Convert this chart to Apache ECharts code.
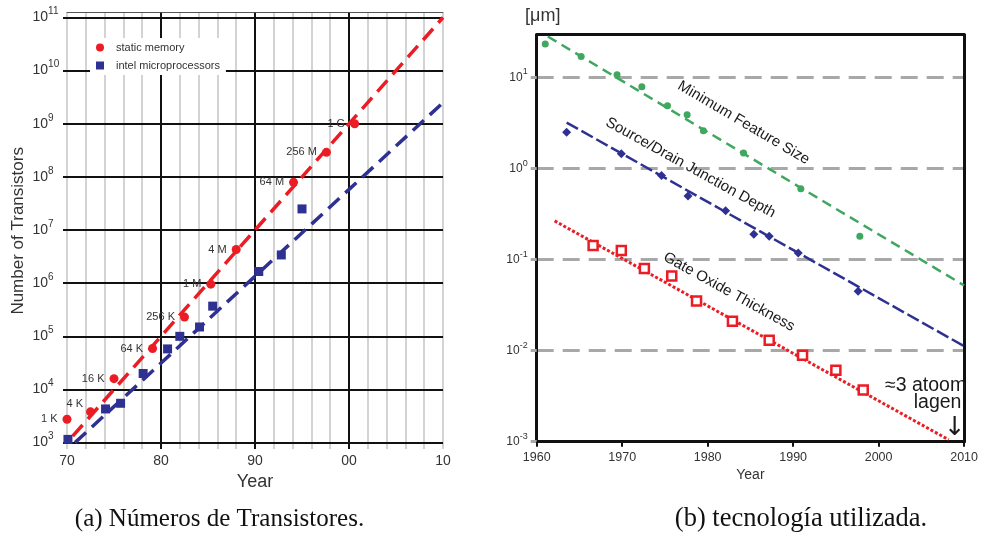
<!DOCTYPE html>
<html><head><meta charset="utf-8">
<script src="https://cdn.jsdelivr.net/npm/echarts@6/dist/echarts.min.js"></script>
<style>html,body{margin:0;padding:0;background:#fff}#c{width:981px;height:541px}</style>
</head><body><div id="c"></div>
<script>
// ---------- Panel (a): number of transistors ----------
const memYears   = [1970.0, 1972.5, 1975.0, 1979.1, 1982.5, 1985.3, 1988.0, 1994.1, 1997.6, 2000.6];
const memValues  = [2.75e3, 3.8e3, 1.6e4, 5.9e4, 2.3e5, 9.6e5, 4.3e6, 7.9e7, 2.9e8, 1.0e9];
const memLabels  = ['1 K', '4 K', '16 K', '64 K', '256 K', '1 M', '4 M', '64 M', '256 M', '1 G'];
const cpuYears   = [1970.1, 1974.1, 1975.7, 1978.1, 1980.7, 1982.0, 1984.1, 1985.5, 1990.4, 1992.8, 1995.0];
const cpuValues  = [1.15e3, 4.3e3, 5.5e3, 2.0e4, 5.8e4, 1.0e5, 1.5e5, 3.7e5, 1.66e6, 3.4e6, 2.5e7];
const memTrendYears  = [1970.6, 2010];
const memTrendValues = [1.32e3, 1e11];
const cpuTrendYears  = [1970.85, 2010];
const cpuTrendValues = [1e3, 2.5e9];
const yearTicksA = ['70', '80', '90', '00', '10'];
const expTicksA  = [3, 4, 5, 6, 7, 8, 9, 10, 11];

// ---------- Panel (b): technology ----------
const featYears   = [1961.0, 1965.2, 1969.4, 1972.3, 1975.3, 1977.6, 1979.5, 1984.2, 1990.9, 1997.8];
const featValues  = [23.3, 17, 10.7, 7.9, 4.9, 3.9, 2.6, 1.48, 0.6, 0.18];
const junctYears  = [1963.5, 1969.9, 1974.6, 1977.7, 1982.1, 1985.4, 1987.2, 1990.6, 1997.6];
const junctValues = [2.5, 1.45, 0.84, 0.5, 0.345, 0.19, 0.18, 0.118, 0.045];
const oxideYears  = [1966.6, 1969.9, 1972.6, 1975.8, 1978.7, 1982.9, 1987.2, 1991.1, 1995.0, 1998.2];
const oxideValues = [0.143, 0.126, 0.080, 0.066, 0.035, 0.021, 0.013, 0.0089, 0.0061, 0.0037];
const featTrendYears   = [1961.3, 2010];
const featTrendValues  = [28.2, 0.052];
const junctTrendYears  = [1963.5, 2010];
const junctTrendValues = [3.2, 0.0112];
const oxideTrendYears  = [1962.1, 2008.2];
const oxideTrendValues = [0.266, 0.00105];
const yearTicksB = ['1960', '1970', '1980', '1990', '2000', '2010'];
const expTicksB  = [-3, -2, -1, 0, 1];

// annotation texts (anchored in data space)
const noteTexts  = ['Minimum Feature Size', 'Source/Drain Junction Depth', 'Gate Oxide Thickness', '≈3 atoom', 'lagen', '↓'];
const noteYears  = [1984.2, 1978.0, 1982.5, 2005.5, 2006.9, 2008.9];
const noteValues = [3.18, 1.02, 0.0442, 0.00412, 0.00266, 0.00140];

const FF = "'Liberation Sans', Arial, sans-serif";
const RED = '#ec1c24', NAVY = '#2e3192', GREEN = '#3fa75f', TXT = '#333';
const zip = (a, b) => a.map((v, i) => [v, b[i]]);

const chart = echarts.init(document.getElementById('c'));

const supA = v => '{b|10}{s|' + Math.round(Math.log10(v)) + '}';
const noteStyles = [
  { rotate: -30.5, fontSize: 15 },
  { rotate: -29, fontSize: 15 },
  { rotate: -29, fontSize: 15 },
  { rotate: 0, fontSize: 19.5 },
  { rotate: 0, fontSize: 19.5 },
  { rotate: 0, fontSize: 26, fontFamily: "'DejaVu Sans', sans-serif" }
];

const option = {
  animation: false,
  backgroundColor: '#fff',
  textStyle: { fontFamily: FF },
  grid: [
    { left: 67, width: 376, top: 12.7, height: 436.3 },
    { left: 536.7, width: 432.6, top: 34.7, height: 407 }
  ],
  legend: {
    data: [{ name: 'static memory', icon: 'circle' }, { name: 'intel microprocessors', icon: 'rect' }],
    orient: 'vertical', left: 90, top: 38, itemWidth: 8, itemHeight: 8, itemGap: 7,
    padding: [4, 6, 4, 6], backgroundColor: '#fff',
    textStyle: { fontSize: 11, color: TXT, fontFamily: FF, padding: [0, 0, 0, 7] }
  },
  xAxis: [
    { gridIndex: 0, type: 'value', min: 1970, max: 2010, interval: 2, position: 'top', z: 0,
      axisLine: { show: true, lineStyle: { color: '#555', width: 1 } }, axisTick: { show: false }, axisLabel: { show: false },
      splitLine: { show: true, lineStyle: { color: '#c4c4c4', width: 1.5 } } },
    { gridIndex: 0, type: 'value', min: 1970, max: 2010, interval: 10, position: 'bottom', z: 1,
      axisLine: { show: false }, axisTick: { show: false },
      axisLabel: { fontSize: 14, color: TXT, margin: 5, formatter: v => yearTicksA[Math.round((v - 1970) / 10)] },
      splitLine: { show: true, showMinLine: false, showMaxLine: false, lineStyle: { color: '#111', width: 2 } },
      name: 'Year', nameLocation: 'middle', nameGap: 23, nameTextStyle: { fontSize: 18, color: TXT } },
    { gridIndex: 1, type: 'value', min: 1960, max: 2010, interval: 10, position: 'bottom',
      axisLine: { show: true, lineStyle: { color: '#111', width: 3 } },
      axisTick: { show: true, inside: false, length: 5, lineStyle: { color: '#111', width: 2 } },
      axisLabel: { fontSize: 12.5, color: TXT, margin: 9, formatter: v => yearTicksB[Math.round((v - 1960) / 10)] },
      splitLine: { show: false },
      name: 'Year', nameLocation: 'middle', nameGap: 26, nameTextStyle: { fontSize: 14, color: TXT } },
    { gridIndex: 1, type: 'value', min: 1960, max: 2010, position: 'top',
      axisLine: { show: true, lineStyle: { color: '#111', width: 3 } }, axisTick: { show: false }, axisLabel: { show: false },
      splitLine: { show: false } }
  ],
  yAxis: [
    { gridIndex: 0, type: 'log', logBase: 10, min: Math.pow(10, 2.88), max: Math.pow(10, 11.09), z: 2,
      axisLine: { show: false },
      axisTick: { show: true, length: 4, customValues: expTicksA.map(e => Math.pow(10, e)), lineStyle: { color: '#111', width: 2 } },
      axisLabel: { align: 'left', margin: 34.5, customValues: expTicksA.map(e => Math.pow(10, e)), formatter: supA,
        rich: { b: { fontSize: 14, color: TXT, verticalAlign: 'middle', fontFamily: FF },
                s: { fontSize: 10, color: TXT, verticalAlign: 'middle', padding: [0, 0, 12, 0], fontFamily: FF } } },
      splitLine: { show: true, showMinLine: true, showMaxLine: true, lineStyle: { color: '#111', width: 2 } },
      name: 'Number of Transistors', nameLocation: 'middle', nameRotate: 90, nameGap: 40,
      nameTextStyle: { fontSize: 17, color: TXT } },
    { gridIndex: 1, type: 'log', logBase: 10, min: 1e-3, max: Math.pow(10, 1.47),
      axisLine: { show: true, lineStyle: { color: '#111', width: 3 } },
      axisTick: { show: true, length: 6, customValues: expTicksB.map(e => Math.pow(10, e)), lineStyle: { color: '#a8a8a8', width: 3 } },
      axisLabel: { margin: 9, customValues: expTicksB.map(e => Math.pow(10, e)), formatter: supA,
        rich: { b: { fontSize: 12, color: TXT, verticalAlign: 'middle', fontFamily: FF },
                s: { fontSize: 9, color: TXT, verticalAlign: 'middle', padding: [0, 0, 11, 0], fontFamily: FF } } },
      splitLine: { show: true, showMinLine: false, showMaxLine: true, lineStyle: { color: '#a8a8a8', width: 3, type: [17, 9] } },
      name: '[μm]', nameLocation: 'end', nameGap: 10,
      nameTextStyle: { fontSize: 18, color: TXT, padding: [0, 0, 0, 12] } },
    { gridIndex: 1, type: 'value', min: 0, max: 1, position: 'right',
      axisLine: { show: true, lineStyle: { color: '#111', width: 3 } }, axisTick: { show: false }, axisLabel: { show: false },
      splitLine: { show: false } }
  ],
  series: [
    { type: 'line', xAxisIndex: 0, yAxisIndex: 0, data: zip(memTrendYears, memTrendValues), showSymbol: false, z: 3,
      lineStyle: { color: RED, width: 3.5, type: [15, 8] } },
    { type: 'line', xAxisIndex: 0, yAxisIndex: 0, data: zip(cpuTrendYears, cpuTrendValues), showSymbol: false, z: 3,
      lineStyle: { color: NAVY, width: 3.5, type: [15, 8] } },
    { name: 'static memory', type: 'scatter', xAxisIndex: 0, yAxisIndex: 0, symbol: 'circle', symbolSize: 9, z: 4,
      itemStyle: { color: RED, opacity: 1 },
      data: zip(memYears, memValues).map((p, i) => i === 1 ? { value: p, label: { offset: [2, -8] } } : p),
      label: { show: true, position: 'left', distance: 5, fontSize: 11, color: TXT,
        formatter: p => memLabels[p.dataIndex] } },
    { name: 'intel microprocessors', type: 'scatter', xAxisIndex: 0, yAxisIndex: 0, symbol: 'rect', symbolSize: 9, z: 4,
      itemStyle: { color: NAVY, opacity: 1 }, data: zip(cpuYears, cpuValues) },

    { type: 'line', xAxisIndex: 2, yAxisIndex: 1, data: zip(featTrendYears, featTrendValues), showSymbol: false, z: 3,
      lineStyle: { color: GREEN, width: 2.5, type: [10, 6] } },
    { type: 'scatter', xAxisIndex: 2, yAxisIndex: 1, data: zip(featYears, featValues), symbol: 'circle', symbolSize: 7, z: 4,
      itemStyle: { color: GREEN, opacity: 1 } },
    { type: 'line', xAxisIndex: 2, yAxisIndex: 1, data: zip(junctTrendYears, junctTrendValues), showSymbol: false, z: 3,
      lineStyle: { color: NAVY, width: 2.5, type: [13, 4] } },
    { type: 'scatter', xAxisIndex: 2, yAxisIndex: 1, data: zip(junctYears, junctValues), symbol: 'diamond', symbolSize: 9, z: 4,
      itemStyle: { color: NAVY, opacity: 1 } },
    { type: 'line', xAxisIndex: 2, yAxisIndex: 1, data: zip(oxideTrendYears, oxideTrendValues), showSymbol: false, z: 3,
      lineStyle: { color: RED, width: 3, type: [3, 2] } },
    { type: 'scatter', xAxisIndex: 2, yAxisIndex: 1, data: zip(oxideYears, oxideValues), symbol: 'rect', symbolSize: 9, z: 4,
      itemStyle: { color: '#fff', borderColor: RED, borderWidth: 2.5, opacity: 1 } },
    { type: 'scatter', xAxisIndex: 2, yAxisIndex: 1, symbolSize: 0, z: 5, silent: true, itemStyle: { opacity: 1 },
      data: zip(noteYears, noteValues).map((p, i) => ({ value: p,
        label: Object.assign({ show: true, position: 'inside', color: '#1a1a1a', opacity: 1, fontFamily: FF,
          formatter: () => noteTexts[i] }, noteStyles[i]) })) }
  ],
  graphic: [
    { type: 'text', x: 219.5, y: 519, style: { text: '(a) Números de Transistores.', fill: '#111',
        font: "25px 'Liberation Serif', serif", textAlign: 'center', textVerticalAlign: 'middle' } },
    { type: 'text', x: 801, y: 519, style: { text: '(b) tecnología utilizada.', fill: '#111',
        font: "26.5px 'Liberation Serif', serif", textAlign: 'center', textVerticalAlign: 'middle' } }
  ]
};
chart.setOption(option);
</script></body></html>
